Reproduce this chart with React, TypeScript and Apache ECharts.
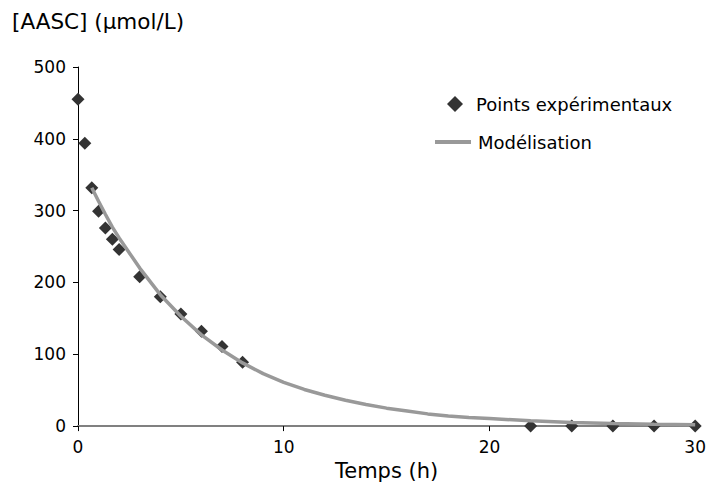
import React, { useEffect, useRef } from "react";
import * as echarts from "echarts";

// Experimental points: time (h) and [AASC] (µmol/L)
const expTimes = [0, 0.33, 0.67, 1, 1.33, 1.67, 2, 3, 4, 5, 6, 7, 8, 22, 24, 26, 28, 30];
const expValues = [455, 394, 332, 299, 276, 260, 246, 208, 180, 156, 132, 111, 89, 0, 0, 0, 0, 0];

// Model curve
const modelTimes = [0.67, 1, 1.33, 1.67, 2, 3, 4, 5, 6, 7, 8, 9, 10, 11, 12, 13, 14, 15, 16, 17, 18, 19, 20, 22, 24, 26, 28, 30];
const modelValues = [332, 313, 295, 277, 262, 220, 183, 153, 127, 106, 88, 73, 61, 51, 43, 36, 30, 25, 21, 17, 14, 12, 10.5, 7.5, 5, 3.5, 2.5, 2];

const xTicks = { min: 0, max: 30, interval: 10 };
const yTicks = { min: 0, max: 500, interval: 100 };

const seriesNames = ["Points expérimentaux", "Modélisation"];
const yTitle = "[AASC] (µmol/L)";
const xTitle = "Temps (h)";

const FONT = "DejaVu Sans";

export default function App() {
  const ref = useRef<HTMLDivElement>(null);
  useEffect(() => {
    if (!ref.current) return;
    const chart = echarts.init(ref.current, undefined, { renderer: "svg" });
    chart.setOption({
      animation: false,
      backgroundColor: "#ffffff",
      textStyle: { fontFamily: FONT, color: "#000" },
      title: {
        text: yTitle,
        left: 12,
        top: 10,
        padding: 0,
        textStyle: { fontFamily: FONT, fontSize: 21.5, fontWeight: "normal", color: "#000" },
      },
      grid: { left: 78, right: 12, top: 67, bottom: 59, containLabel: false },
      legend: [
        {
          data: [{ name: seriesNames[0], icon: "diamond", itemStyle: { color: "#333333", opacity: 1 } }],
          left: 442,
          top: 90,
          padding: 5,
          itemWidth: 16,
          itemHeight: 16,
          itemGap: 0,
          selectedMode: false,
          textStyle: { fontFamily: FONT, fontSize: 18, color: "#000", padding: [0, 0, 0, 8] },
        },
        {
          data: [{ name: seriesNames[1], icon: "rect", itemStyle: { color: "#999999" } }],
          left: 430,
          top: 128,
          padding: 5,
          itemWidth: 36,
          itemHeight: 4,
          selectedMode: false,
          textStyle: { fontFamily: FONT, fontSize: 18, color: "#000", padding: [0, 0, 0, 2] },
        },
      ],
      xAxis: {
        type: "value",
        min: xTicks.min,
        max: xTicks.max,
        interval: xTicks.interval,
        name: xTitle,
        nameLocation: "middle",
        nameGap: 33,
        nameTextStyle: { fontFamily: FONT, fontSize: 21, color: "#000" },
        splitLine: { show: false },
        axisLine: { show: true, onZero: false, lineStyle: { color: "#808080", width: 2 } },
        axisTick: { show: true, inside: false, length: 5, lineStyle: { color: "#000", width: 1 } },
        axisLabel: { fontFamily: FONT, fontSize: 17, color: "#000", margin: 12 },
      },
      yAxis: {
        type: "value",
        min: yTicks.min,
        max: yTicks.max,
        interval: yTicks.interval,
        splitLine: { show: false },
        axisLine: { show: true, lineStyle: { color: "#000", width: 1 } },
        axisTick: { show: true, inside: false, length: 5, lineStyle: { color: "#000", width: 1 } },
        axisLabel: { fontFamily: FONT, fontSize: 17, color: "#000", margin: 12 },
      },
      series: [
        {
          name: seriesNames[0],
          type: "scatter",
          symbol: "diamond",
          symbolSize: 13,
          clip: false,
          itemStyle: { color: "#333333", opacity: 1 },
          data: expTimes.map((t, i) => [t, expValues[i]]),
          z: 2,
        },
        {
          name: seriesNames[1],
          type: "line",
          symbol: "none",
          showSymbol: false,
          smooth: false,
          clip: false,
          lineStyle: { color: "#999999", width: 3.5 },
          itemStyle: { color: "#999999" },
          data: modelTimes.map((t, i) => [t, modelValues[i]]),
          z: 3,
        },
      ],
    });
    return () => chart.dispose();
  }, []);
  return <div ref={ref} style={{ width: 709, height: 486, position: "absolute", left: 0, top: 0 }} />;
}
